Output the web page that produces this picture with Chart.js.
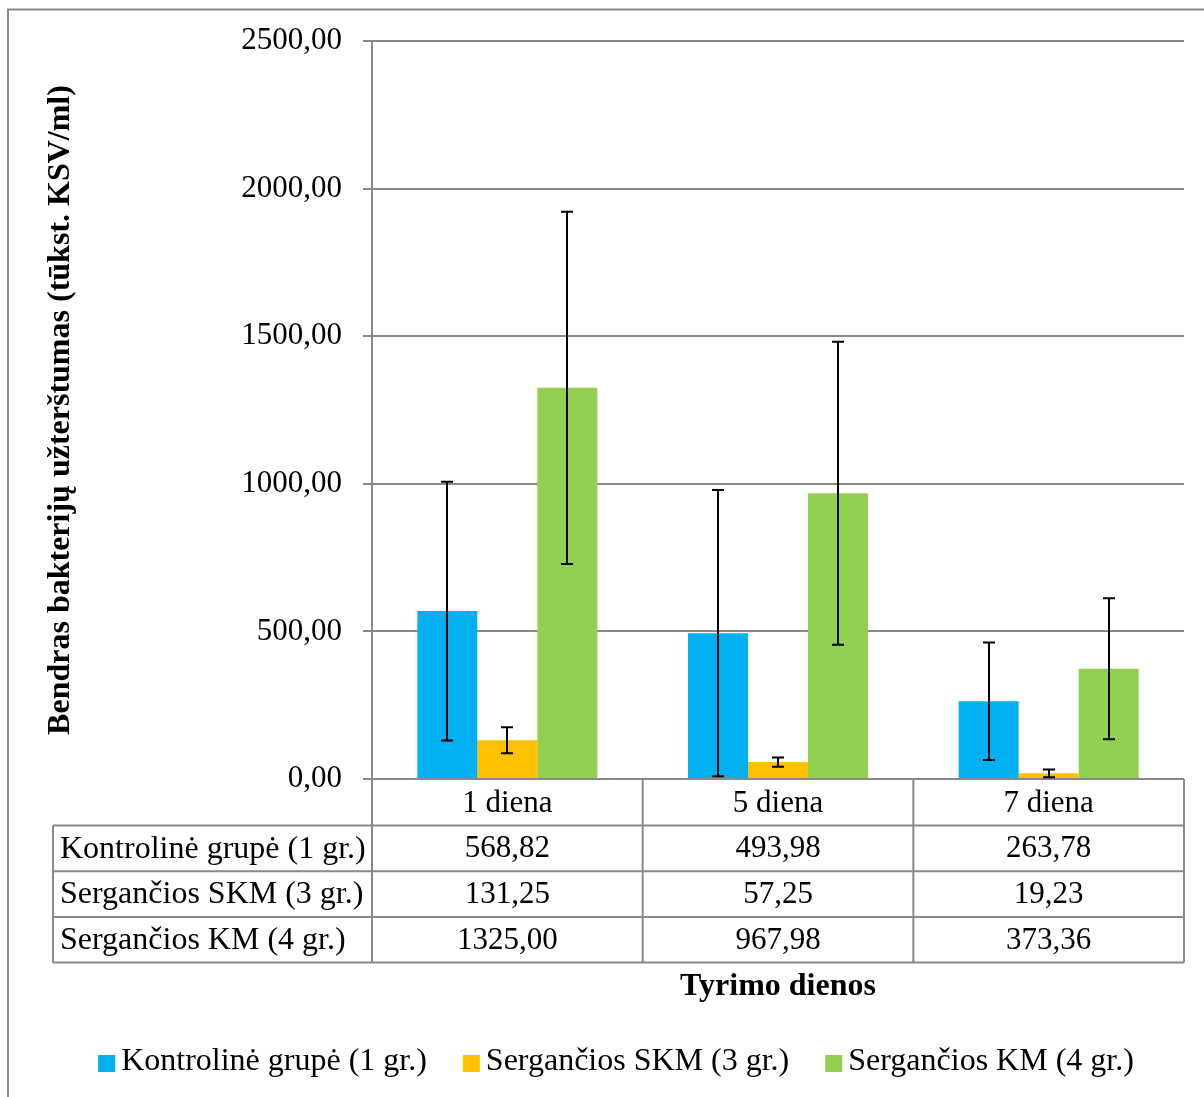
<!DOCTYPE html>
<html>
<head>
<meta charset="utf-8">
<script src="https://cdn.jsdelivr.net/npm/chart.js@4/dist/chart.umd.min.js"></script>
<style>
  html, body { margin: 0; padding: 0; background: #ffffff; }
  canvas { display: block; }
</style>
</head>
<body>
<canvas id="c" width="1204" height="1097"></canvas>
<script>
// ---- data ----
const categories = ['1 diena', '5 diena', '7 diena'];
const seriesNames = ['Kontrolinė grupė (1 gr.)', 'Sergančios SKM (3 gr.)', 'Sergančios KM (4 gr.)'];
const kontrolineValues = [568.82, 493.98, 263.78];
const skmValues = [131.25, 57.25, 19.23];
const kmValues = [1325.00, 967.98, 373.36];
const kontrolineErr = [438, 485, 199];
const skmErr = [44, 16, 13];
const kmErr = [597, 513, 239];
const yTickLabels = ['0,00', '500,00', '1000,00', '1500,00', '2000,00', '2500,00'];
const yTitle = 'Bendras bakterijų užterštumas (tūkst. KSV/ml)';
const xTitle = 'Tyrimo dienos';

const seriesValues = [kontrolineValues, skmValues, kmValues];
const seriesErrors = [kontrolineErr, skmErr, kmErr];
const seriesColors = ['#00B0F0', '#FFC000', '#92D050'];

const FONT = "'Liberation Serif', 'Times New Roman', serif";
const GRID = '#898989';
const fmt = v => v.toFixed(2).replace('.', ',');

const errorBarPlugin = {
  id: 'errorBars',
  afterDatasetsDraw(chart) {
    const ctx = chart.ctx;
    const y = chart.scales.y;
    ctx.save();
    ctx.strokeStyle = '#000000';
    ctx.lineWidth = 2;
    chart.data.datasets.forEach((ds, di) => {
      const meta = chart.getDatasetMeta(di);
      meta.data.forEach((bar, i) => {
        const v = ds.data[i];
        const e = seriesErrors[di][i];
        const top = y.getPixelForValue(v + e);
        const bot = y.getPixelForValue(Math.max(0, v - e));
        const x = Math.round(bar.x);
        ctx.beginPath();
        ctx.moveTo(x, top); ctx.lineTo(x, bot);
        ctx.moveTo(x - 6, top); ctx.lineTo(x + 6, top);
        ctx.moveTo(x - 6, bot); ctx.lineTo(x + 6, bot);
        ctx.stroke();
      });
    });
    ctx.restore();
  }
};

const tablePlugin = {
  id: 'dataTable',
  afterDraw(chart) {
    const ctx = chart.ctx;
    const xs = chart.scales.x;
    const area = chart.chartArea;
    const rowH = 45.7;
    const top = area.bottom;
    const headerBottom = top + 46.5;
    const tableBottom = headerBottom + rowH * 3;
    const labelLeft = 53;
    const half = (xs.getPixelForValue(1) - xs.getPixelForValue(0)) / 2;
    ctx.save();
    // outer chart border (top & left visible)
    ctx.strokeStyle = '#8a8a8a';
    ctx.lineWidth = 2;
    ctx.beginPath();
    ctx.moveTo(8, 1097); ctx.lineTo(8, 9.5); ctx.lineTo(1204, 9.5);
    ctx.stroke();

    ctx.strokeStyle = GRID;
    ctx.lineWidth = 2;
    ctx.beginPath();
    for (let i = 0; i <= categories.length; i++) {
      const xp = i < categories.length ? xs.getPixelForValue(i) - half : xs.getPixelForValue(i - 1) + half;
      ctx.moveTo(xp, top); ctx.lineTo(xp, tableBottom);
    }
    ctx.moveTo(labelLeft, headerBottom); ctx.lineTo(labelLeft, tableBottom);
    for (let r = 0; r <= 3; r++) {
      const yy = headerBottom + r * rowH;
      ctx.moveTo(labelLeft, yy); ctx.lineTo(area.right, yy);
    }
    ctx.stroke();

    ctx.fillStyle = '#000000';
    ctx.textBaseline = 'middle';
    for (let r = 0; r < 3; r++) {
      const cy = headerBottom + r * rowH + rowH / 2 + 1;
      ctx.textAlign = 'left';
      ctx.font = '32px ' + FONT;
      ctx.fillText(seriesNames[r], 60, cy);
      ctx.textAlign = 'center';
      ctx.font = '31px ' + FONT;
      for (let i = 0; i < categories.length; i++) {
        ctx.fillText(fmt(seriesValues[r][i]), xs.getPixelForValue(i), cy);
      }
    }

    // legend
    ctx.font = '32px ' + FONT;
    const gapBox = 6, box = 17, gapItem = 36;
    const widths = seriesNames.map(n => ctx.measureText(n).width);
    const total = widths.reduce((a, w) => a + box + gapBox + w, 0) + gapItem * (seriesNames.length - 1);
    let lx = 616 - total / 2;
    const ly = 1062;
    ctx.textAlign = 'left';
    seriesNames.forEach((n, i) => {
      ctx.fillStyle = seriesColors[i];
      ctx.fillRect(lx, 1055, box, box);
      ctx.fillStyle = '#000000';
      ctx.fillText(n, lx + box + gapBox, ly);
      lx += box + gapBox + widths[i] + gapItem;
    });
    ctx.restore();
  }
};

new Chart(document.getElementById('c'), {
  type: 'bar',
  data: {
    labels: categories,
    datasets: seriesNames.map((n, i) => ({
      label: n,
      data: seriesValues[i],
      backgroundColor: seriesColors[i],
      borderWidth: 0,
      categoryPercentage: 0.665,
      barPercentage: 1.0
    }))
  },
  options: {
    responsive: false,
    animation: false,
    devicePixelRatio: 1,
    layout: { padding: { top: 41, right: 20, bottom: 0, left: 0 } },
    plugins: { legend: { display: false }, tooltip: { enabled: false } },
    scales: {
      x: {
        afterFit(scale) { scale.height = 318; },
        grid: { display: true, drawOnChartArea: false, drawTicks: false, color: GRID, lineWidth: 0 },
        border: { display: true, color: GRID, width: 2 },
        ticks: { color: '#000000', font: { family: FONT, size: 31, lineHeight: 1.2 }, padding: 6, maxRotation: 0 },
        title: { display: true, text: xTitle, color: '#000000', font: { family: FONT, size: 32, weight: 'bold', lineHeight: 1.2 }, padding: { top: 0, bottom: 91 } }
      },
      y: {
        min: 0, max: 2500,
        afterFit(scale) { scale.width = 372; },
        grid: { color: GRID, lineWidth: 2, drawTicks: true, tickLength: 9 },
        border: { display: true, color: GRID, width: 2 },
        ticks: {
          stepSize: 500,
          color: '#000000',
          font: { family: FONT, size: 31, lineHeight: 1.2 },
          padding: 21,
          callback: (v, i) => yTickLabels[i]
        },
        title: { display: true, text: yTitle, color: '#000000', font: { family: FONT, size: 32, weight: 'bold', lineHeight: 1.2 }, padding: { top: 42, bottom: 0 } }
      }
    }
  },
  plugins: [errorBarPlugin, tablePlugin]
});
</script>
</body>
</html>
